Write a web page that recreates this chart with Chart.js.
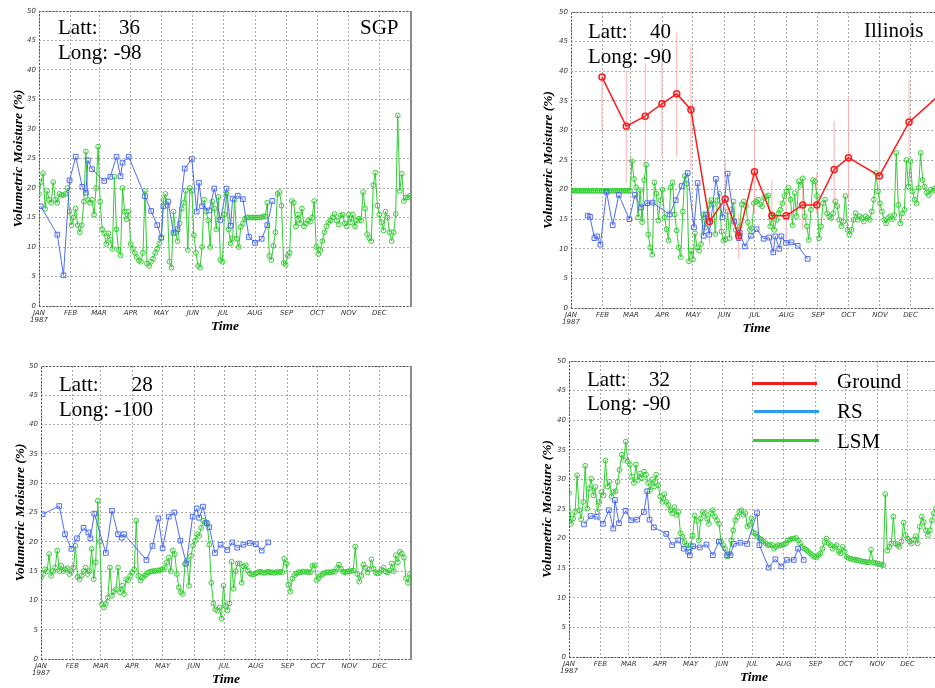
<!DOCTYPE html>
<html><head><meta charset="utf-8">
<script src="https://cdn.jsdelivr.net/npm/chart.js@4.4.1/dist/chart.umd.min.js"></script>
<style>
html,body{margin:0;padding:0;background:#fff;width:935px;height:688px;overflow:hidden;position:relative;}
canvas{position:absolute;}
.t{position:absolute;font-family:"Liberation Serif","Times New Roman",serif;font-size:21px;line-height:21px;white-space:nowrap;color:#000;}
.sw{position:absolute;height:3px;}
</style></head><body>
<canvas id="cA" width="420" height="340" style="left:0;top:0"></canvas>
<canvas id="cB" width="422" height="342" style="left:530px;top:0"></canvas>
<canvas id="cC" width="420" height="348" style="left:0;top:345px"></canvas>
<canvas id="cD" width="420" height="346" style="left:530px;top:345px"></canvas>

<div class="t" style="left:58px;top:17.4px">Latt:</div><div class="t" style="left:119px;top:17.4px">36</div>
<div class="t" style="left:58px;top:42.4px">Long: -98</div>
<div class="t" style="left:360px;top:17.4px">SGP</div>

<div class="t" style="left:588px;top:20.7px">Latt:</div><div class="t" style="left:650px;top:20.7px">40</div>
<div class="t" style="left:588px;top:45.7px">Long: -90</div>
<div class="t" style="left:864px;top:20.1px">Illinois</div>

<div class="t" style="left:59px;top:374.1px">Latt:</div><div class="t" style="left:131.7px;top:374.1px">28</div>
<div class="t" style="left:59px;top:399.1px">Long: -100</div>

<div class="t" style="left:587px;top:369.1px">Latt:</div><div class="t" style="left:649px;top:369.1px">32</div>
<div class="t" style="left:587px;top:393px">Long: -90</div>

<div class="sw" style="left:752px;top:381.5px;width:65px;background:#f02020"></div>
<div class="sw" style="left:754px;top:409.5px;width:65px;background:#2a9cf0"></div>
<div class="sw" style="left:753px;top:438.5px;width:66px;background:#33cc33"></div>
<div class="t" style="left:837px;top:370.7px">Ground</div>
<div class="t" style="left:837px;top:401.4px">RS</div>
<div class="t" style="left:837px;top:430.7px">LSM</div>

<script>
// ---- categories ----
const MONTH_DAYS = [0,31,59,90,120,151,181,212,243,273,304,334];
const MONTH_LABELS = ['JAN','FEB','MAR','APR','MAY','JUN','JUL','AUG','SEP','OCT','NOV','DEC'];
const YEAR = '1987';
const DAYS = [0,2,4,6,8,10,12,14,16,18,20,22,24,26,28,30,32,34,36,38,40,42,44,46,48,50,52,54,56,58,
60,62,64,66,68,70,72,74,76,78,80,82,84,86,88,90,92,94,96,98,100,102,104,106,108,110,112,114,116,118,
120,122,124,126,128,130,132,134,136,138,140,142,144,146,148,150,152,154,156,158,160,162,164,166,168,170,172,174,176,178,
180,182,184,186,188,190,192,194,196,198,200,202,204,206,208,210,212,214,216,218,220,222,224,226,228,230,232,234,236,238,
240,242,244,246,248,250,252,254,256,258,260,262,264,266,268,270,272,274,276,278,280,282,284,286,288,290,292,294,296,298,
300,302,304,306,308,310,312,314,316,318,320,322,324,326,328,330,332,334,336,338,340,342,344,346,348,350,352,354,356,358,
360,362,364];

// ---- SGP (Latt 36, Long -98) ----
const LSM_A = [19,21,22.5,16.5,19.5,18,17.5,21,18,17.5,19,18.8,18.8,19,20,
16,13.7,15,16.5,13.7,12.5,13.7,17.7,26.2,18,17.5,18,15.5,20,27,
17.7,13,12.3,10.5,12.3,11.2,9.7,21.9,13,9.5,8.6,20,16,14.7,16,
10.5,9.7,9,8.3,7.7,7.5,9,19.5,7.2,6.8,7.5,8,9,9.7,10.6,
11.5,18,19,17,7.5,6.5,16,12.5,11,14,16.5,17.5,19.5,9.5,20,
19.5,12,9,6.8,6.5,10,18,16,14.5,10,17.7,16.5,13,18.5,7.8,
7.5,15.5,19,13,10.6,11.5,18,11.4,10,13.4,14,14.8,15,15,15,
15,15,15,15,15,15.2,15.2,17.5,8.5,7.8,10.2,12.5,19,19.3,17,
7.3,7,8.5,9,17.8,17.5,13.5,15.5,14,16.5,13.5,14,14.5,14.3,15,
17.8,10,8.8,9.5,11,12.5,13.5,14.2,14.5,15,15.6,14.5,13.8,15.3,15.5,
14,13.5,15.5,14.2,15.5,13.5,14.5,14.8,14.5,19.3,16.5,12.2,11.5,11,20.5,
22.6,17,15.5,14.2,12.8,16,15,12.5,11,12.5,15.6,32.3,19.5,22.4,17.8,
18.4,18.4,18.7];
const RS_A_DAYS = [1.6,18,24,30,36,42.5,46,48,52,64,70,76,80,82,88,104,110,116,120,122,126.6,132,136,143,150,154.7,157,160,167,172,178,184,188,190,195,200,206,212,218.5,224,229];
const RS_A = [16.9,12.1,5.2,21.3,25.3,20.2,19.2,24.7,23.2,21.2,21.9,25.3,22,24.3,25.3,18.6,16.1,13.7,11.6,16.9,17.7,12.4,13,23.3,24.9,16,20.9,16.9,16.2,19.9,14.6,19.9,13.6,18.2,18.7,18.1,11.7,10.7,11.4,13.7,17.8];

// ---- Illinois (Latt 40, Long -90) ----
const LSM_B = [19.8,19.8,19.8,19.8,19.8,19.8,19.8,19.8,19.8,19.8,19.8,19.8,19.8,19.8,19.8,
19.8,19.8,19.8,19.8,19.8,19.8,19.8,19.8,19.8,19.8,19.8,19.8,19.8,19.8,19.8,
24.8,21.8,20.4,15.3,19.9,14.5,21.6,24.2,12.4,10.2,9,21.2,19.3,14.8,18.2,
20,15.3,13.3,11.4,20.4,21.2,15.8,13.1,10.2,8.6,16.3,22.3,21,7.9,9.7,
8.2,12.6,10.2,9.7,10.8,15.8,13.6,15.8,17.4,18.2,17.5,12.5,18.2,19.3,12.9,11.4,
11.6,16.3,11.8,16.6,18,13.2,12.7,13.8,17.5,18,17.2,14.5,13.2,13.5,
17.7,18,18.3,17.5,17.2,18.6,18.8,19,13.8,15.5,13.2,14.9,16,16.6,17.7,
18.9,19.7,20.3,18.3,14,19.4,15.5,21.4,20.8,21.9,15.5,13.8,11.5,16.6,21.6,
21.4,18.9,11.8,13.8,17.7,18.3,16,15.5,15.2,16,18,17.2,14.9,13.8,14.6,
18.9,13.2,12.4,13.2,14.9,16,14.9,15.5,15.2,14.6,15.5,15.2,14.9,16.3,18.3,
22.8,19.7,17.7,16.3,14.9,14.3,15.2,15.5,15,15.7,26.2,17.4,14.3,16,16.6,
25,20.5,24.8,19.7,18.3,17.7,20.3,26.2,21.6,20.5,19.5,19.1,20,19.8,20.2,
20.3,20.3,20.4];
const RS_B_DAYS = [16.4,18.7,23,25.6,28.9,35,41,47,57.4,63,68.9,74.8,80.3,97,103,108.9,114.8,121,124.6,130.5,132.8,136,142.6,149,154,160.6,165,166,171,177,182.6,189.5,195,199,201,205,207,211.5,217,223,232.8];
const RS_B = [15.6,15.4,11.8,12.1,10.7,19.6,14,19.1,15,19.1,17,17.7,17.8,15.8,18.2,20.6,22.8,13.6,21.1,12.2,15.8,12.4,21.8,15.3,22.7,14.6,11.8,12.7,10.4,12.2,13.3,11.7,11.9,9.4,12.1,10,12.1,11,11.1,10.5,8.3];
const GROUND_DAYS = [30.5,54.4,73,89.5,104,118,136.3,151.7,165,180.5,197.6,211.7,228,241.8,258.9,273,303.4,332.6,364.5];
const GROUND = [39.0,30.7,32.4,34.5,36.2,33.5,14.6,18.4,12.2,23.0,15.6,15.6,17.4,17.4,23.4,25.4,22.3,31.4,36.3];
const GROUND_LO = [29.6,21.1,23.4,25.6,25.6,23.4,10.6,13.8,8.2,16,9.3,11.5,13.2,16,17.1,18.3,16,25.3,30];
const GROUND_HI = [39.5,40,41.4,42.5,46.5,44.2,18.8,25.3,16,30.7,21.6,20.5,21.6,22.8,31.5,35.7,30.4,38.6,42];

// ---- Latt 28, Long -100 ----
const LSM_C = [13.9,14.5,15.3,15,17.9,14.2,15,15.6,18.5,15,15.9,15,15.3,15.5,14.5,
15,15.6,19.3,14,13.6,14.2,15,15.6,14.5,15,18.8,13.6,16.5,27,20,
9.4,8.8,9.4,10.5,15.6,10.8,11.5,11.9,15.6,11.4,12.5,11.1,13.6,13.4,14.2,
14.8,15.3,23.6,14.2,13.4,13.9,14.2,14.5,14.8,14.9,15,15,15.1,15.1,15.2,
15.3,15.6,16.5,17.3,15,18.5,17.9,14.5,12.2,11.4,11.1,16.2,16.8,12.5,17.6,
19.3,20.2,21.3,21,22.4,23.6,23.3,23,19.5,13,9.5,8.5,8.3,8.8,6.9,
12.5,9,8.3,9.5,16.6,12,15,16.3,16.3,13,15.8,16,15.1,14.6,14.4,
14.4,14.6,14.8,14.9,14.8,14.7,14.8,14.9,14.8,14.8,14.7,14.8,14.8,14.9,14.8,
17.1,16.3,12.7,11.5,13.7,14.3,14.6,14.8,14.8,14.9,14.9,14.9,14.8,14.8,15.9,
16,13.5,13.8,14.3,14.5,14.7,14.8,14.8,14.8,14.9,14.9,15.5,16.1,15.4,14.9,
14.8,14.9,15,15,15.1,19.2,14.5,13.2,14.2,16.1,15.6,14.8,15.3,17,15.4,
14.8,14.6,14.8,15.2,15.6,14.9,14.8,15.1,16.3,15,17.7,16.5,18.3,18,17.3,
13.8,13,14.5];
const RS_C_DAYS = [1.6,18,23.7,30,35.5,42,46.7,48.7,52.6,64,70,76,79.6,82,104,110,115.8,120,126,131.5,137.5,143.4,149.6,153.6,156,159.8,163.5,166,171.6,177.2,183.8,188.7,193.6,199.6,206,212,217.7,224.2];
const RS_C = [24.7,26.1,21.3,18.8,20.6,22.4,21.6,20.6,24.8,18.1,25.3,21.3,20.7,21.3,16.9,19.3,24,18.9,24.3,25,20.2,16.3,24.3,25.7,24.1,26,23.2,22.5,18.1,19.5,18.6,19.9,19,19.5,19.8,19.6,18.5,19.9];

// ---- Latt 32, Long -90 ----
const LSM_D = [27.7,22.5,23.4,24.5,30.7,24.8,23.3,26.2,32.3,25.1,28.5,30.1,27.3,28.7,24.5,
26.2,27.9,27.3,33.2,28.8,29.6,27.1,27.9,28,29.6,31.6,34.2,33.3,36.4,33,
32.5,30.5,29.4,32.5,29.9,31,30.2,31.3,30.8,29.4,28.2,30,28.8,30.8,29,
27.1,26.2,27.5,26.2,25.7,24.8,24.3,25.3,24,24.5,20.9,20.3,19.4,18.9,18.4,
18.9,20.5,23.9,23,19.7,23.4,24.5,24.3,23.4,22.5,24.3,24.8,23.7,23.1,22.5,
19.5,18.9,18.3,17,17.5,19.7,21.4,23.1,23.7,24.5,24.8,24,24.3,22,22.3,
23.4,21,20.8,20.3,20,19.8,19.5,19.2,18.9,18.9,19,18.3,18.6,18.9,18.8,
18.9,19,19.2,19.7,19.8,20,20,20.1,19.7,19.2,18.6,18.3,18.1,17.8,17.5,
17.2,16.9,16.8,17.2,17.5,18.3,19.4,20,19.2,18.9,18.3,18.6,18.9,17.8,17.5,
18.6,17.8,16.9,16.7,16.6,16.5,16.4,16.4,16.3,16.2,16.1,16.1,16,16,18.1,
16,15.9,15.8,15.7,15.6,15.5,27.5,18,18.6,19.2,23.7,19.2,18.9,18.6,19.5,
22.7,20.6,20,19.5,19.2,19.8,20.4,19.2,22,23.7,22.8,21.4,20.6,21.4,23.1,
24.3,25.1,25.7];
const RS_D_DAYS = [14.8,21.3,27.3,33.5,39.4,43.7,45.3,49.3,55.8,61.4,67.3,73.9,77.2,79.5,83.7,95.9,101.8,107.7,113.3,117.6,119.2,122.5,129,135.6,141.9,147.8,156,159.3,162.6,169.1,175.7,185.5,187.8,197,203.6,209.5,215,221.7,226,231.5];
const RS_D = [22.4,23.8,23.7,22.5,24.8,21.7,26.5,22.6,24.7,23.1,23.2,24.5,28,23.2,21.9,20.8,18.9,19.7,18.3,17.8,17.2,18.7,18.5,19,17.2,19.5,17.2,17.2,19.1,19.3,19.1,24.3,18.9,15.1,16.5,15.3,16.4,16.4,18.3,16.4];

// ---- helpers ----
function pts(days, vals){ return days.map((d,i)=>({x:d, y:vals[i]})); }
function bars(days, lo, hi){ const out=[]; days.forEach((d,i)=>{ out.push({x:d,y:lo[i]},{x:d,y:hi[i]},{x:d,y:null}); }); return out; }

const GREEN='#33cc33', BLUE='#4f6cf0', RED='#ff1a1a';
function lsmSet(vals){ return {data:pts(DAYS,vals), borderColor:GREEN, borderWidth:1, pointRadius:2.4, pointBorderWidth:1,
  pointBorderColor:GREEN, pointBackgroundColor:'rgba(0,0,0,0)', pointStyle:'circle', order:3}; }
function rsSet(days, vals){ return {data:pts(days,vals), borderColor:BLUE, borderWidth:1, pointRadius:3.3, pointBorderWidth:1,
  pointBorderColor:BLUE, pointBackgroundColor:'rgba(0,0,0,0)', pointStyle:'rect', order:2}; }

const framePlugin = {
  id:'frame',
  beforeDatasetsDraw(chart){
    const {ctx, chartArea:{left,top,right,bottom}} = chart;
    ctx.save();
    ctx.strokeStyle='#555'; ctx.lineWidth=1; ctx.setLineDash([2,1.5]);
    ctx.beginPath();
    ctx.moveTo(left+0.5,bottom+0.5); ctx.lineTo(left+0.5,top+0.5); ctx.lineTo(right,top+0.5);
    ctx.moveTo(left,bottom+0.5); ctx.lineTo(right,bottom+0.5);
    ctx.stroke();
    ctx.setLineDash([]); ctx.strokeStyle='#8a8a8a'; ctx.lineWidth=2;
    ctx.beginPath(); ctx.moveTo(right,top); ctx.lineTo(right,bottom+1); ctx.stroke();
    ctx.restore();
  }
};

function makeChart(id, datasets, g){
  const tickFont = {family:'"DejaVu Sans", sans-serif', size:7, style:'italic', lineHeight:1.0};
  return new Chart(document.getElementById(id), {
    type:'line',
    data:{datasets},
    plugins:[framePlugin],
    options:{
      responsive:false, animation:false, devicePixelRatio:1,
      layout:{padding:{left:0, top:g.top, right:g.right, bottom:0}},
      elements:{line:{tension:0}},
      plugins:{legend:{display:false}, tooltip:{enabled:false}},
      scales:{
        x:{type:'linear', min:0, max:365,
          afterBuildTicks:s=>{ s.ticks = MONTH_DAYS.map(v=>({value:v})); },
          afterFit:s=>{ s.height = 34; },
          ticks:{autoSkip:false, maxRotation:0, minRotation:0, padding:4, color:'#333', font:tickFont,
            callback:(v,i)=> i===0 ? [MONTH_LABELS[0], YEAR] : MONTH_LABELS[i]},
          grid:{color:'#ababab', lineWidth:1, drawTicks:false},
          border:{display:false, dash:[2,2]},
          title:{display:true, text:'Time', color:'#000',
            font:{family:'"Liberation Serif", serif', size:13.5, style:'italic', weight:'bold'},
            padding:{top:0, bottom:5}}
        },
        y:{min:0, max:50,
          afterFit:s=>{ s.width = g.yw; },
          ticks:{stepSize:5, padding:3, color:'#333', font:tickFont},
          grid:{color:'#ababab', lineWidth:1, drawTicks:false},
          border:{display:false, dash:[2,2]},
          title:{display:true, text:'Volumetric Moisture (%)', color:'#000',
            font:{family:'"Liberation Serif", serif', size:13.5, style:'italic', weight:'bold'},
            padding:{top:g.tp, bottom:0}}
        }
      }
    }
  });
}

makeChart('cA', [rsSet(RS_A_DAYS, RS_A), lsmSet(LSM_A)], {top:11, right:9, yw:39, tp:10});
makeChart('cB', [
  {data:pts(GROUND_DAYS, GROUND), borderColor:RED, borderWidth:1.5, pointRadius:3, pointBorderWidth:1.5,
   pointBorderColor:RED, pointBackgroundColor:'rgba(0,0,0,0)', pointStyle:'circle', order:1},
  rsSet(RS_B_DAYS, RS_B), lsmSet(LSM_B),
  {data:bars(GROUND_DAYS, GROUND_LO, GROUND_HI), borderColor:'#ffb0b0', borderWidth:1, pointRadius:0, spanGaps:false, order:4}
], {top:12, right:10, yw:41, tp:10.6});
makeChart('cC', [rsSet(RS_C_DAYS, RS_C), lsmSet(LSM_C)], {top:21, right:9, yw:41, tp:12});
makeChart('cD', [rsSet(RS_D_DAYS, RS_D), lsmSet(LSM_D)], {top:16, right:11, yw:39, tp:9.4});
</script>
</body></html>
